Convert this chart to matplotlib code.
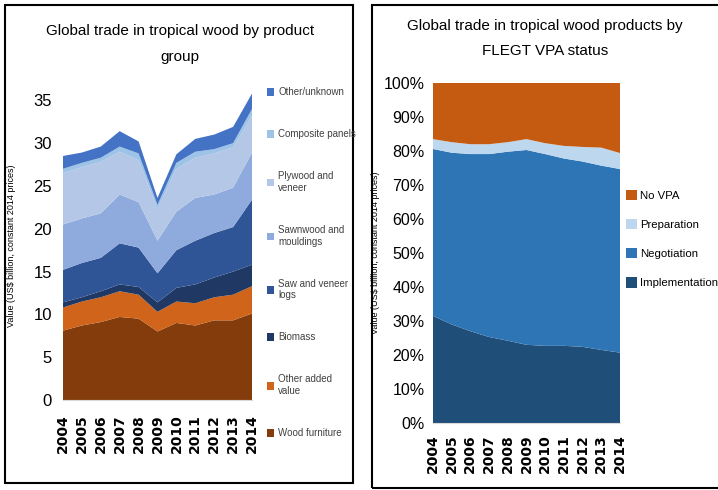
import matplotlib
matplotlib.use("Agg")
import matplotlib.pyplot as plt
from matplotlib.patches import Rectangle, Patch
import numpy as np

years = [2004, 2005, 2006, 2007, 2008, 2009, 2010, 2011, 2012, 2013, 2014]

# left chart: US$ billion by product group (bottom to top)
wood_furniture = [8.1, 8.7, 9.1, 9.7, 9.5, 8.0, 9.0, 8.7, 9.3, 9.3, 10.1]
other_added = [2.7, 2.8, 2.9, 3.0, 2.8, 2.3, 2.5, 2.6, 2.7, 3.0, 3.2]
biomass = [0.6, 0.5, 0.7, 0.8, 0.9, 1.1, 1.6, 2.2, 2.3, 2.7, 2.5]
saw_logs = [3.8, 4.0, 3.9, 4.8, 4.6, 3.4, 4.4, 5.1, 5.2, 5.2, 7.6]
sawnwood = [5.3, 5.2, 5.2, 5.7, 5.3, 3.8, 4.5, 5.0, 4.5, 4.6, 5.5]
plywood = [6.0, 6.0, 6.0, 5.0, 4.9, 3.7, 5.0, 4.7, 4.8, 4.7, 4.3]
composite = [0.5, 0.5, 0.5, 0.6, 0.8, 0.5, 0.7, 0.7, 0.5, 0.5, 0.8]
other_unknown = [1.5, 1.2, 1.3, 1.8, 1.4, 0.8, 1.0, 1.5, 1.7, 1.9, 1.8]

product_names = ["Wood furniture", "Other added\nvalue", "Biomass", "Saw and veneer\nlogs",
                 "Sawnwood and\nmouldings", "Plywood and\nveneer", "Composite panels", "Other/unknown"]
product_colors = ["#843C0C", "#D0641A", "#203864", "#2F5597",
                  "#8FAADC", "#B4C7E7", "#9DC3E6", "#4472C4"]

# right chart: share by FLEGT VPA status (bottom to top), percent
implementation = [31.5, 29.0, 27.0, 25.3, 24.2, 23.0, 22.7, 22.7, 22.4, 21.5, 20.7]
negotiation = [49.1, 50.5, 52.1, 53.8, 55.6, 57.3, 56.4, 55.1, 54.5, 54.2, 54.0]
preparation = [2.9, 3.1, 2.9, 2.9, 2.8, 3.2, 3.2, 3.7, 4.3, 5.3, 4.7]
no_vpa = [16.5, 17.4, 18.0, 18.0, 17.4, 16.5, 17.7, 18.5, 18.8, 19.0, 20.6]

vpa_names = ["Implementation", "Negotiation", "Preparation", "No VPA"]
vpa_colors = ["#1F4E79", "#2E75B6", "#BDD7EE", "#C55A11"]

plt.rcParams["font.family"] = ["Liberation Sans", "DejaVu Sans"]

fig = plt.figure(figsize=(7.18, 4.9), dpi=100)

# panel frames (the right one runs off the right edge, as in the source image)
fig.patches.append(Rectangle((0.007, 0.014), 0.485, 0.976, transform=fig.transFigure,
                             fill=False, edgecolor="black", linewidth=1.5))
fig.patches.append(Rectangle((0.518, 0.004), 0.5, 0.986, transform=fig.transFigure,
                             fill=False, edgecolor="black", linewidth=1.5))

# ---- left chart
ax1 = fig.add_axes([0.0877, 0.1837, 0.2633, 0.629])
ax1.stackplot(years, wood_furniture, other_added, biomass, saw_logs, sawnwood,
              plywood, composite, other_unknown, colors=product_colors, linewidth=0)
ax1.set_xlim(2004, 2014)
ax1.set_ylim(0, 36)
ax1.set_yticks(range(0, 36, 5))
ax1.set_xticks(years)
ax1.set_xticklabels([str(y) for y in years], rotation=90, fontsize=10, fontweight="bold",
                    family="DejaVu Sans")
ax1.tick_params(axis="y", length=0, labelsize=12, pad=8)
ax1.tick_params(axis="x", length=0, pad=10)
for s in ax1.spines.values():
    s.set_visible(False)
ax1.spines["bottom"].set_visible(True)
ax1.spines["bottom"].set_color("#d9d9d9")
ax1.set_ylabel("Value (US$ billion, constant 2014 prices)", fontsize=6.5)
ax1.yaxis.set_label_coords(-0.25, 0.5)
ax1.set_title("Global trade in tropical wood by product\ngroup", fontsize=11,
              linespacing=2.1, pad=22, x=0.62)

handles = [Patch(facecolor=c) for c in product_colors]
leg1 = fig.legend(handles[::-1], product_names[::-1], loc="upper left",
                  bbox_to_anchor=(0.366, 0.83), frameon=False, fontsize=7,
                  handlelength=0.8, handleheight=0.8, handletextpad=0.4,
                  labelspacing=3.3, borderaxespad=0)
for t in leg1.get_texts():
    t.set_color("#404040")

# ---- right chart
ax2 = fig.add_axes([0.603, 0.1367, 0.2605, 0.6939])
ax2.stackplot(years, implementation, negotiation, preparation, no_vpa,
              colors=vpa_colors, linewidth=0)
ax2.set_xlim(2004, 2014)
ax2.set_ylim(0, 100)
ax2.set_yticks(range(0, 101, 10))
ax2.set_yticklabels([f"{v}%" for v in range(0, 101, 10)])
ax2.set_xticks(years)
ax2.set_xticklabels([str(y) for y in years], rotation=90, fontsize=10, fontweight="bold",
                    family="DejaVu Sans")
ax2.tick_params(axis="y", length=0, labelsize=11.5, pad=6)
ax2.tick_params(axis="x", length=0, pad=8)
for s in ax2.spines.values():
    s.set_visible(False)
ax2.spines["bottom"].set_visible(True)
ax2.spines["bottom"].set_color("#d9d9d9")
ax2.set_ylabel("Value (US$ billion, constant 2014 prices)", fontsize=6.5)
ax2.yaxis.set_label_coords(-0.285, 0.5)
ax2.set_title("Global trade in tropical wood products by\nFLEGT VPA status", fontsize=11,
              linespacing=2.0, pad=20, x=0.6)

handles2 = [Patch(facecolor=c) for c in vpa_colors]
fig.legend(handles2[::-1], vpa_names[::-1], loc="upper left",
           bbox_to_anchor=(0.866, 0.622), frameon=False, fontsize=8.2,
           handlelength=0.9, handleheight=1.0, handletextpad=0.3,
           labelspacing=1.6, borderaxespad=0)

fig.savefig("out.png", dpi=100)
